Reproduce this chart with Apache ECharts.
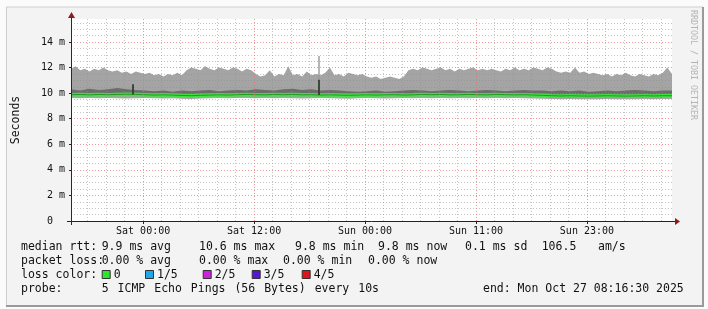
<!DOCTYPE html>
<html><head><meta charset="utf-8">
<script src="https://cdn.jsdelivr.net/npm/echarts@6/dist/echarts.min.js"></script>
<style>html,body{margin:0;padding:0;background:#fbfbfb}#c{width:708px;height:309px}</style>
</head><body><div id="c"></div>
<script>
// ---- data (hours since graph start, values in milliseconds) ----
const smokeHours = Array.from({length:131}, (_, i) => i * 0.5);
const smokeMax = [
 11.9,12.1,11.8,11.9,11.7,11.9,11.8,12.0,11.8,11.7,
 11.8,11.6,11.7,11.5,11.7,11.6,
 11.5,11.6,11.4,11.5,11.3,11.5,11.4,11.6,11.4,
 11.8,12.0,11.9,11.8,12.1,11.9,
 11.8,12.0,11.9,11.8,12.0,11.9,11.7,11.9,11.8,
 11.5,11.3,11.4,11.8,11.3,11.5,11.4,12.1,11.4,11.5,11.3,
 11.7,11.4,11.5,
 11.4,11.6,12.0,11.4,11.5,11.3,11.6,
 11.5,11.4,11.5,11.3,11.2,11.3,11.1,11.2,11.3,11.2,11.1,11.3,11.8,
 11.9,11.8,12.0,11.9,11.8,11.9,12.0,11.8,11.9,11.7,11.9,11.8,11.9,12.0,11.8,11.9,
 11.8,11.9,11.8,11.7,11.9,11.8,12.0,11.8,11.9,11.8,12.0,11.9,11.8,12.0,11.9,
 11.7,11.6,11.7,11.6,12.0,11.6,11.7,11.5,11.6,11.5,
 11.4,11.5,11.3,11.5,11.4,11.6,11.4,11.3,11.5,11.4,11.3,11.5,11.4,
 11.6,12.0,11.5
];
const hourly = Array.from({length:66}, (_, i) => i);
const smokeDarkTop = [
 10.3,10.2,10.35,10.25,10.3,10.4,10.3,10.25,10.2,
 10.15,10.2,10.1,10.2,10.15,10.2,10.25,10.15,10.2,10.25,10.2,
 10.3,10.25,10.2,10.3,10.35,10.25,10.3,10.2,10.25,10.2,10.15,
 10.1,10.15,10.2,10.1,10.15,10.2,10.25,10.2,10.15,10.2,10.25,
 10.2,10.15,10.2,10.25,10.2,10.15,10.2,10.25,10.2,10.2,10.15,
 10.2,10.15,10.2,10.1,10.15,10.2,10.15,10.2,10.25,10.2,10.15,10.2,10.2
];
const medianRtt = [
 9.88,9.9,9.87,9.9,9.88,9.9,9.92,9.9,9.88,9.85,9.87,9.85,9.82,
 9.8,9.83,9.85,9.87,9.85,9.88,9.9,9.88,9.87,9.9,9.88,9.9,9.87,
 9.88,9.85,9.87,9.85,9.83,9.85,9.87,9.85,9.87,9.88,9.85,9.87,9.9,
 9.88,9.9,9.87,9.88,9.9,9.88,9.87,9.9,9.88,9.87,9.88,9.85,9.83,
 9.8,9.78,9.8,9.78,9.77,9.78,9.8,9.78,9.77,9.78,9.8,9.78,9.8,9.8
];
const smokeMin = [
 9.62,9.6,9.63,9.6,9.62,9.6,9.58,9.6,9.62,9.6,9.58,9.6,9.57,9.55,9.58,9.6,9.62,9.6,9.62,9.63,9.6,9.62,
 9.6,9.62,9.6,9.58,9.6,9.62,9.6,9.58,9.57,9.6,9.62,9.6,9.58,9.6,9.62,9.6,9.63,9.6,9.62,9.6,9.62,9.6,
 9.62,9.6,9.63,9.6,9.62,9.6,9.58,9.57,9.55,9.53,9.55,9.53,9.52,9.53,9.55,9.53,9.52,9.53,9.55,9.53,9.55,9.55
];
// single-sample spikes
const spikeHours   = [6.66, 26.76];
const spikeBase    = [9.9, 9.85];
const spikeSmoke   = [10.7, 12.9];
const spikeDark    = [10.7, 11.05];

// axis ticks
const xLabelHours = [7.8, 19.8, 31.8, 43.8, 55.8];
const xLabels = ['Sat 00:00','Sat 12:00','Sun 00:00','Sun 11:00','Sun 23:00'];
const xMinorHours = [1.8,3.8,5.8,9.8,11.8,13.8,15.8,17.8,21.8,23.8,25.8,27.8,29.8,33.8,35.8,37.8,39.8,41.8,45.8,47.8,49.8,51.8,53.8,57.8,59.8,61.8,63.8];
const yMajor = [2,4,6,8,10,12,14];
const yMinor = [0.5,1,1.5,2.5,3,3.5,4.5,5,5.5,6.5,7,7.5,8.5,9,9.5,10.5,11,11.5,12.5,13,13.5,14.5,15,15.5];

// legend texts
const legendRows = [
  [['median rtt:',21],['9.9 ms avg',101.7],['10.6 ms max',199],['9.8 ms min',295],['9.8 ms now',378],['0.1 ms sd',465],['106.5',541.7],['am/s',598]],
  [['packet loss:',21],['0.00 % avg',101.7],['0.00 % max',199],['0.00 % min',283],['0.00 % now',368]],
  [['loss color:',21]],
  [['probe:',21],['end: Mon Oct 27 08:16:30 2025',483]]
];
const probeText = '5 ICMP Echo Pings (56 Bytes) every 10s';
const lossLabels = ['0','1/5','2/5','3/5','4/5'];
const lossColors = ['#2ee62e','#1ea8ea','#cc22dd','#5516d6','#e0141a'];
const lossX = [101.7,145,202.7,251.7,301.7];
const rowY = [247,261,275,289];

const zip = (xs, ys) => xs.map((x, i) => [x, ys[i]]);
const mono = '"DejaVu Sans Mono", monospace';
const legendFont = '11.5px ' + mono;
const charW = 6.93;

const chart = echarts.init(document.getElementById('c'), null, {renderer:'canvas'});

const gridLines = [];
xMinorHours.forEach(h => gridLines.push({xAxis:h, lineStyle:{color:'rgba(140,140,140,0.5)', type:[1,2], width:1}}));
yMinor.forEach(v => gridLines.push({yAxis:v, lineStyle:{color:'rgba(140,140,140,0.5)', type:[1,2], width:1}}));
xLabelHours.forEach(h => gridLines.push({xAxis:h, lineStyle:{color:'rgba(230,110,110,0.7)', type:[1,2], width:1}}));
yMajor.forEach(v => gridLines.push({yAxis:v, lineStyle:{color:'rgba(230,110,110,0.7)', type:[1,2], width:1}}));

const spikeLines = [];
spikeHours.forEach((h, i) => {
  spikeLines.push([{coord:[h, spikeBase[i]], lineStyle:{color:'#9c9c9c', width:1.5, type:'solid'}}, {coord:[h, spikeSmoke[i]]}]);
  spikeLines.push([{coord:[h, spikeBase[i]], lineStyle:{color:'#1e2a1e', width:1.5, type:'solid'}}, {coord:[h, spikeDark[i]]}]);
});

const area = (name, data, color) => ({
  name, type:'line', data, symbol:'none', silent:true,
  lineStyle:{width:0}, areaStyle:{color, opacity:1}
});

const graphics = [
  {type:'rect', shape:{x:6, y:7, width:697, height:299}, style:{fill:'#f3f3f3', stroke:null}, z:-10},
  {type:'line', shape:{x1:6, y1:7, x2:703, y2:7}, style:{stroke:'#cfcfcf', lineWidth:1}, z:-9},
  {type:'line', shape:{x1:6.5, y1:7, x2:6.5, y2:306}, style:{stroke:'#cfcfcf', lineWidth:1}, z:-9},
  {type:'line', shape:{x1:703, y1:7, x2:703, y2:306}, style:{stroke:'#9a9a9a', lineWidth:2}, z:-9},
  {type:'line', shape:{x1:6, y1:306, x2:704, y2:306}, style:{stroke:'#9a9a9a', lineWidth:2}, z:-9},
  {type:'rect', shape:{x:71, y:19, width:601, height:202}, style:{fill:'#ffffff'}, z:-8},
  // axis extensions and arrowheads
  {type:'line', shape:{x1:67, y1:221.5, x2:676, y2:221.5}, style:{stroke:'#222', lineWidth:1}, z:50},
  {type:'line', shape:{x1:71.5, y1:225, x2:71.5, y2:15}, style:{stroke:'#3a2222', lineWidth:1}, z:50},
  {type:'polygon', shape:{points:[[675,218],[680,221.5],[675,225]]}, style:{fill:'#8e1c1c'}, z:51},
  {type:'polygon', shape:{points:[[68,18],[71.5,12],[75,18]]}, style:{fill:'#8e1c1c'}, z:51},
  {type:'text', x:693, y:10, rotation:-Math.PI/2, style:{text:'RRDTOOL / TOBI OETIKER', font:'8.3px ' + mono, fill:'#b4b4b4', textVerticalAlign:'middle'}}
];
legendRows.forEach((row, r) => row.forEach(([t, x]) => graphics.push({
  type:'text', x, y:rowY[r], style:{text:t, font:legendFont, fill:'#111', textVerticalAlign:'middle'}
})));
// probe description, words slightly spread as in the original
let px = 101.7;
probeText.split(' ').forEach(w => {
  graphics.push({type:'text', x:px, y:rowY[3], style:{text:w, font:legendFont, fill:'#111', textVerticalAlign:'middle'}});
  px += (w.length + 1) * charW + 2;
});
lossLabels.forEach((t, i) => {
  graphics.push({type:'rect', shape:{x:lossX[i]+0.5, y:rowY[2]-4.5, width:8, height:8}, style:{fill:lossColors[i], stroke:'#333', lineWidth:1}});
  graphics.push({type:'text', x:lossX[i]+12, y:rowY[2], style:{text:t, font:legendFont, fill:'#111', textVerticalAlign:'middle'}});
});

chart.setOption({
  animation:false,
  backgroundColor:'transparent',
  grid:{left:71, right:36, top:19, bottom:88, containLabel:false, outerBoundsMode:'none'},
  xAxis:{
    type:'value', min:0, max:65,
    axisLine:{show:false},
    axisTick:{show:true, customValues:xLabelHours, length:3, lineStyle:{color:'#222'}},
    axisLabel:{customValues:xLabelHours, fontFamily:mono, fontSize:10, color:'#111', margin:5,
      formatter: v => { let k = 0, d = 1e9; xLabelHours.forEach((h, i) => { if (Math.abs(h - v) < d) { d = Math.abs(h - v); k = i; } }); return xLabels[k]; }},
    splitLine:{show:false}
  },
  yAxis:{
    type:'value', min:0, max:15.8, interval:2,
    name:'Seconds', nameLocation:'middle', nameGap:49, nameRotate:90,
    nameTextStyle:{fontFamily:mono, fontSize:11.5, color:'#111'},
    axisLine:{show:false},
    axisTick:{show:true, length:2, lineStyle:{color:'#222'}},
    axisLabel:{fontFamily:mono, fontSize:10, color:'#111', margin:6, showMaxLabel:false,
      formatter: v => v === 0 ? '0  ' : v + ' m'},
    splitLine:{show:false}
  },
  graphic: graphics,
  series:[
    area('smoke max', zip(smokeHours, smokeMax), '#a4a4a4'),
    area('smoke dark', zip(hourly, smokeDarkTop), '#6c6c6c'),
    area('smoke low', zip(hourly, medianRtt), '#a4a4a4'),
    area('floor', zip(hourly, smokeMin), '#ffffff'),
    {name:'spikes', type:'line', data:[], silent:true,
      markLine:{silent:true, symbol:['none','none'], label:{show:false}, animation:false, data:spikeLines}},
    {name:'median', type:'line', data:zip(hourly, medianRtt), symbol:'none', silent:true,
      lineStyle:{color:'#3fe23f', width:3.5}},
    {name:'median core', type:'line', data:zip(hourly, medianRtt), symbol:'none', silent:true,
      lineStyle:{color:'#1f9a1f', width:1}},
    {name:'grid', type:'line', data:[], silent:true, z:10,
      markLine:{silent:true, symbol:['none','none'], label:{show:false}, animation:false, data:gridLines}}
  ]
});
</script></body></html>
